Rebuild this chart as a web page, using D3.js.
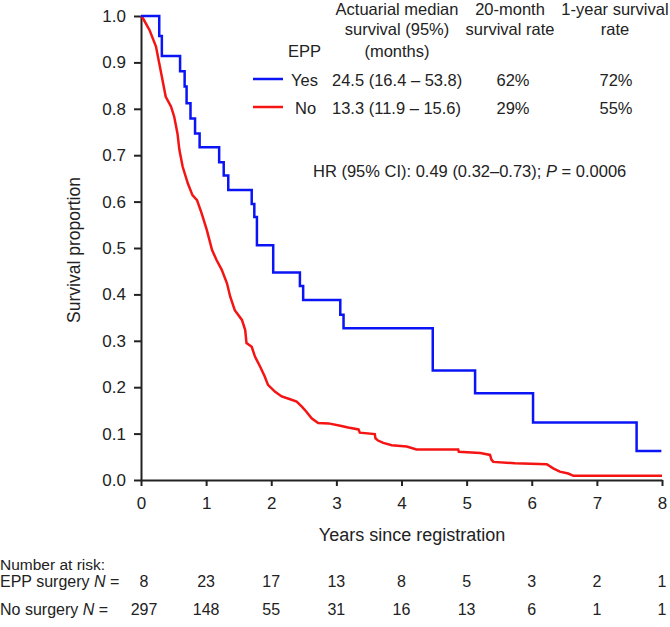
<!DOCTYPE html>
<html>
<head>
<meta charset="utf-8">
<script src="https://cdn.jsdelivr.net/npm/d3@7"></script>
<style>
  body { margin: 0; background: #fff; }
  text { font-family: "Liberation Sans", Arial, sans-serif; fill: #222; }
</style>
</head>
<body>
<div id="chart"></div>
<script>
// Kaplan-Meier curves, EPP surgery vs no surgery

// years on x axis and y ticks
var yearTicks = [0, 1, 2, 3, 4, 5, 6, 7, 8];
var survTicks = [0, 0.1, 0.2, 0.3, 0.4, 0.5, 0.6, 0.7, 0.8, 0.9, 1.0];

// EPP surgery curve (time in years, survival after each step)
var eppTime = [0, 0.28, 0.32, 0.60, 0.67, 0.70, 0.76, 0.83, 0.90, 1.20, 1.27, 1.34, 1.70, 1.74, 1.78, 2.03, 2.44, 2.49, 3.06, 3.11, 4.48, 5.13, 6.02, 7.61, 7.99];
var eppSurv = [1.0, 0.957, 0.914, 0.881, 0.848, 0.812, 0.779, 0.747, 0.717, 0.685, 0.656, 0.625, 0.595, 0.567, 0.506, 0.447, 0.418, 0.388, 0.356, 0.327, 0.236, 0.187, 0.124, 0.0625, 0.0625];

// no surgery curve
var noTime = [0, 0.03, 0.13, 0.23, 0.28, 0.33, 0.38, 0.46, 0.51, 0.56, 0.59, 0.64, 0.72, 0.79, 0.86, 0.93, 1.01, 1.09, 1.16, 1.24, 1.32, 1.37, 1.44, 1.55, 1.60, 1.62, 1.70, 1.75, 1.83, 1.90, 1.95, 2.06, 2.16, 2.29, 2.39, 2.47, 2.54, 2.62, 2.72, 2.88, 3.06, 3.18, 3.34, 3.36, 3.59, 3.60, 3.64, 3.72, 3.85, 4.08, 4.23, 4.87, 4.88, 5.21, 5.36, 5.38, 5.41, 5.74, 6.23, 6.33, 6.43, 6.56, 6.64, 8.0];
var noSurv = [1.0, 0.995, 0.970, 0.934, 0.898, 0.862, 0.826, 0.805, 0.783, 0.747, 0.711, 0.675, 0.639, 0.614, 0.603, 0.575, 0.539, 0.496, 0.474, 0.453, 0.424, 0.395, 0.366, 0.345, 0.323, 0.295, 0.287, 0.266, 0.244, 0.223, 0.205, 0.190, 0.180, 0.174, 0.169, 0.158, 0.147, 0.133, 0.123, 0.122, 0.117, 0.113, 0.109, 0.102, 0.099, 0.090, 0.085, 0.080, 0.075, 0.072, 0.066, 0.066, 0.061, 0.058, 0.054, 0.044, 0.039, 0.036, 0.034, 0.025, 0.018, 0.014, 0.009, 0.009];

// numbers at risk
var riskEpp = [8, 23, 17, 13, 8, 5, 3, 2, 1];
var riskNo = [297, 148, 55, 31, 16, 13, 6, 1, 1];

// legend table
var groupNames = ["Yes", "No"];
var groupColors = ["#0a14f5", "#f51414"];
var medians = ["24.5 (16.4 \u2013 53.8)", "13.3 (11.9 \u2013 15.6)"];
var rate20m = ["62%", "29%"];
var rate1y = ["72%", "55%"];

var svgWidth = 670;
var svgHeight = 627;

var margin = { top: 16, right: 8, bottom: 147, left: 141 };
var chartW = svgWidth - margin.left - margin.right;
var chartH = svgHeight - margin.top - margin.bottom;

var svg = d3.select("#chart")
  .append("svg")
  .attr("width", svgWidth)
  .attr("height", svgHeight);

var chartGrp = svg.append("g")
  .attr("transform", `translate(${margin.left}, ${margin.top})`);

var xScale = d3.scaleLinear().domain([0, 8]).range([0, chartW]);
var yScale = d3.scaleLinear().domain([0, 1]).range([chartH, 0]);

var bottomAxis = d3.axisBottom(xScale).tickValues(yearTicks).tickSize(6).tickSizeOuter(0).tickPadding(11).tickFormat(d3.format("d"));
var leftAxis = d3.axisLeft(yScale).tickValues(survTicks).tickSize(7).tickSizeOuter(0).tickPadding(8).tickFormat(d3.format(".1f"));

var xAx = chartGrp.append("g")
  .attr("transform", `translate(0, ${chartH})`)
  .call(bottomAxis);
var yAx = chartGrp.append("g")
  .call(leftAxis);

[xAx, yAx].forEach(function(ax) {
  ax.selectAll("path, line").attr("stroke", "#222").attr("stroke-width", 2);
  ax.selectAll("text").attr("font-size", "17px").attr("fill", "#222");
});

// curves
var stepLine = d3.line()
  .x(d => xScale(d[0]))
  .y(d => yScale(d[1]))
  .curve(d3.curveStepAfter);

// the no-surgery curve has many tiny steps, so its read points are joined directly
var denseLine = d3.line()
  .x(d => xScale(d[0]))
  .y(d => yScale(d[1]));

var noData = noTime.map((t, i) => [t, noSurv[i]]);
var eppData = eppTime.map((t, i) => [t, eppSurv[i]]);

chartGrp.append("path")
  .datum(noData)
  .attr("d", denseLine)
  .attr("fill", "none")
  .attr("stroke", groupColors[1])
  .attr("stroke-width", 2.5);

chartGrp.append("path")
  .datum(eppData)
  .attr("d", stepLine)
  .attr("fill", "none")
  .attr("stroke", groupColors[0])
  .attr("stroke-width", 2.5);

// axis labels
svg.append("text")
  .attr("transform", `translate(80, 250) rotate(-90)`)
  .attr("text-anchor", "middle")
  .attr("font-size", "17.5px")
  .text("Survival proportion");

svg.append("text")
  .attr("x", 412)
  .attr("y", 541)
  .attr("text-anchor", "middle")
  .attr("font-size", "18px")
  .text("Years since registration");

// legend table
var fs = "16.5px";
var hdr = [
  { x: 397, lines: ["Actuarial median", "survival (95%)", "(months)"] },
  { x: 510, lines: ["20-month", "survival rate"] },
  { x: 615, lines: ["1-year survival", "rate"] }
];
var hdrY = [15, 35, 57];
hdr.forEach(function(h) {
  h.lines.forEach(function(s, i) {
    svg.append("text")
      .attr("x", h.x)
      .attr("y", hdrY[i])
      .attr("text-anchor", "middle")
      .attr("font-size", fs)
      .text(s);
  });
});

svg.append("text")
  .attr("x", 288)
  .attr("y", 57)
  .attr("font-size", fs)
  .text("EPP");

var rowY = [79, 107];
groupNames.forEach(function(g, i) {
  svg.append("line")
    .attr("x1", 253).attr("x2", 283)
    .attr("y1", rowY[i]).attr("y2", rowY[i])
    .attr("stroke", groupColors[i])
    .attr("stroke-width", 2.5);
  svg.append("text")
    .attr("x", i === 0 ? 291 : 295)
    .attr("y", rowY[i] + 7)
    .attr("font-size", fs)
    .text(g);
  svg.append("text")
    .attr("x", 332)
    .attr("y", rowY[i] + 7)
    .attr("font-size", fs)
    .text(medians[i]);
  svg.append("text")
    .attr("x", 513)
    .attr("y", rowY[i] + 7)
    .attr("text-anchor", "middle")
    .attr("font-size", fs)
    .text(rate20m[i]);
  svg.append("text")
    .attr("x", 616)
    .attr("y", rowY[i] + 7)
    .attr("text-anchor", "middle")
    .attr("font-size", fs)
    .text(rate1y[i]);
});

var hr = svg.append("text")
  .attr("x", 313)
  .attr("y", 177)
  .attr("font-size", fs);
hr.append("tspan").text("HR (95% CI): 0.49 (0.32\u20130.73); ");
hr.append("tspan").attr("font-style", "italic").text("P");
hr.append("tspan").text(" = 0.0006");

// number at risk
svg.append("text")
  .attr("x", 0)
  .attr("y", 570)
  .attr("font-size", "15.5px")
  .text("Number at risk:");

var riskRows = [
  { label: "EPP surgery ", y: 587, vals: riskEpp },
  { label: "No surgery ", y: 615, vals: riskNo }
];
riskRows.forEach(function(r) {
  var t = svg.append("text")
    .attr("x", 0)
    .attr("y", r.y)
    .attr("font-size", "16px");
  t.append("tspan").text(r.label);
  t.append("tspan").attr("font-style", "italic").text("N");
  t.append("tspan").text(" =");

  svg.selectAll(null)
    .data(r.vals)
    .enter()
    .append("text")
    .attr("x", (d, i) => margin.left + xScale(yearTicks[i]) + (i === 0 ? 3 : 0))
    .attr("y", r.y)
    .attr("text-anchor", "middle")
    .attr("font-size", "16px")
    .text(d => d);
});
</script>
</body>
</html>
